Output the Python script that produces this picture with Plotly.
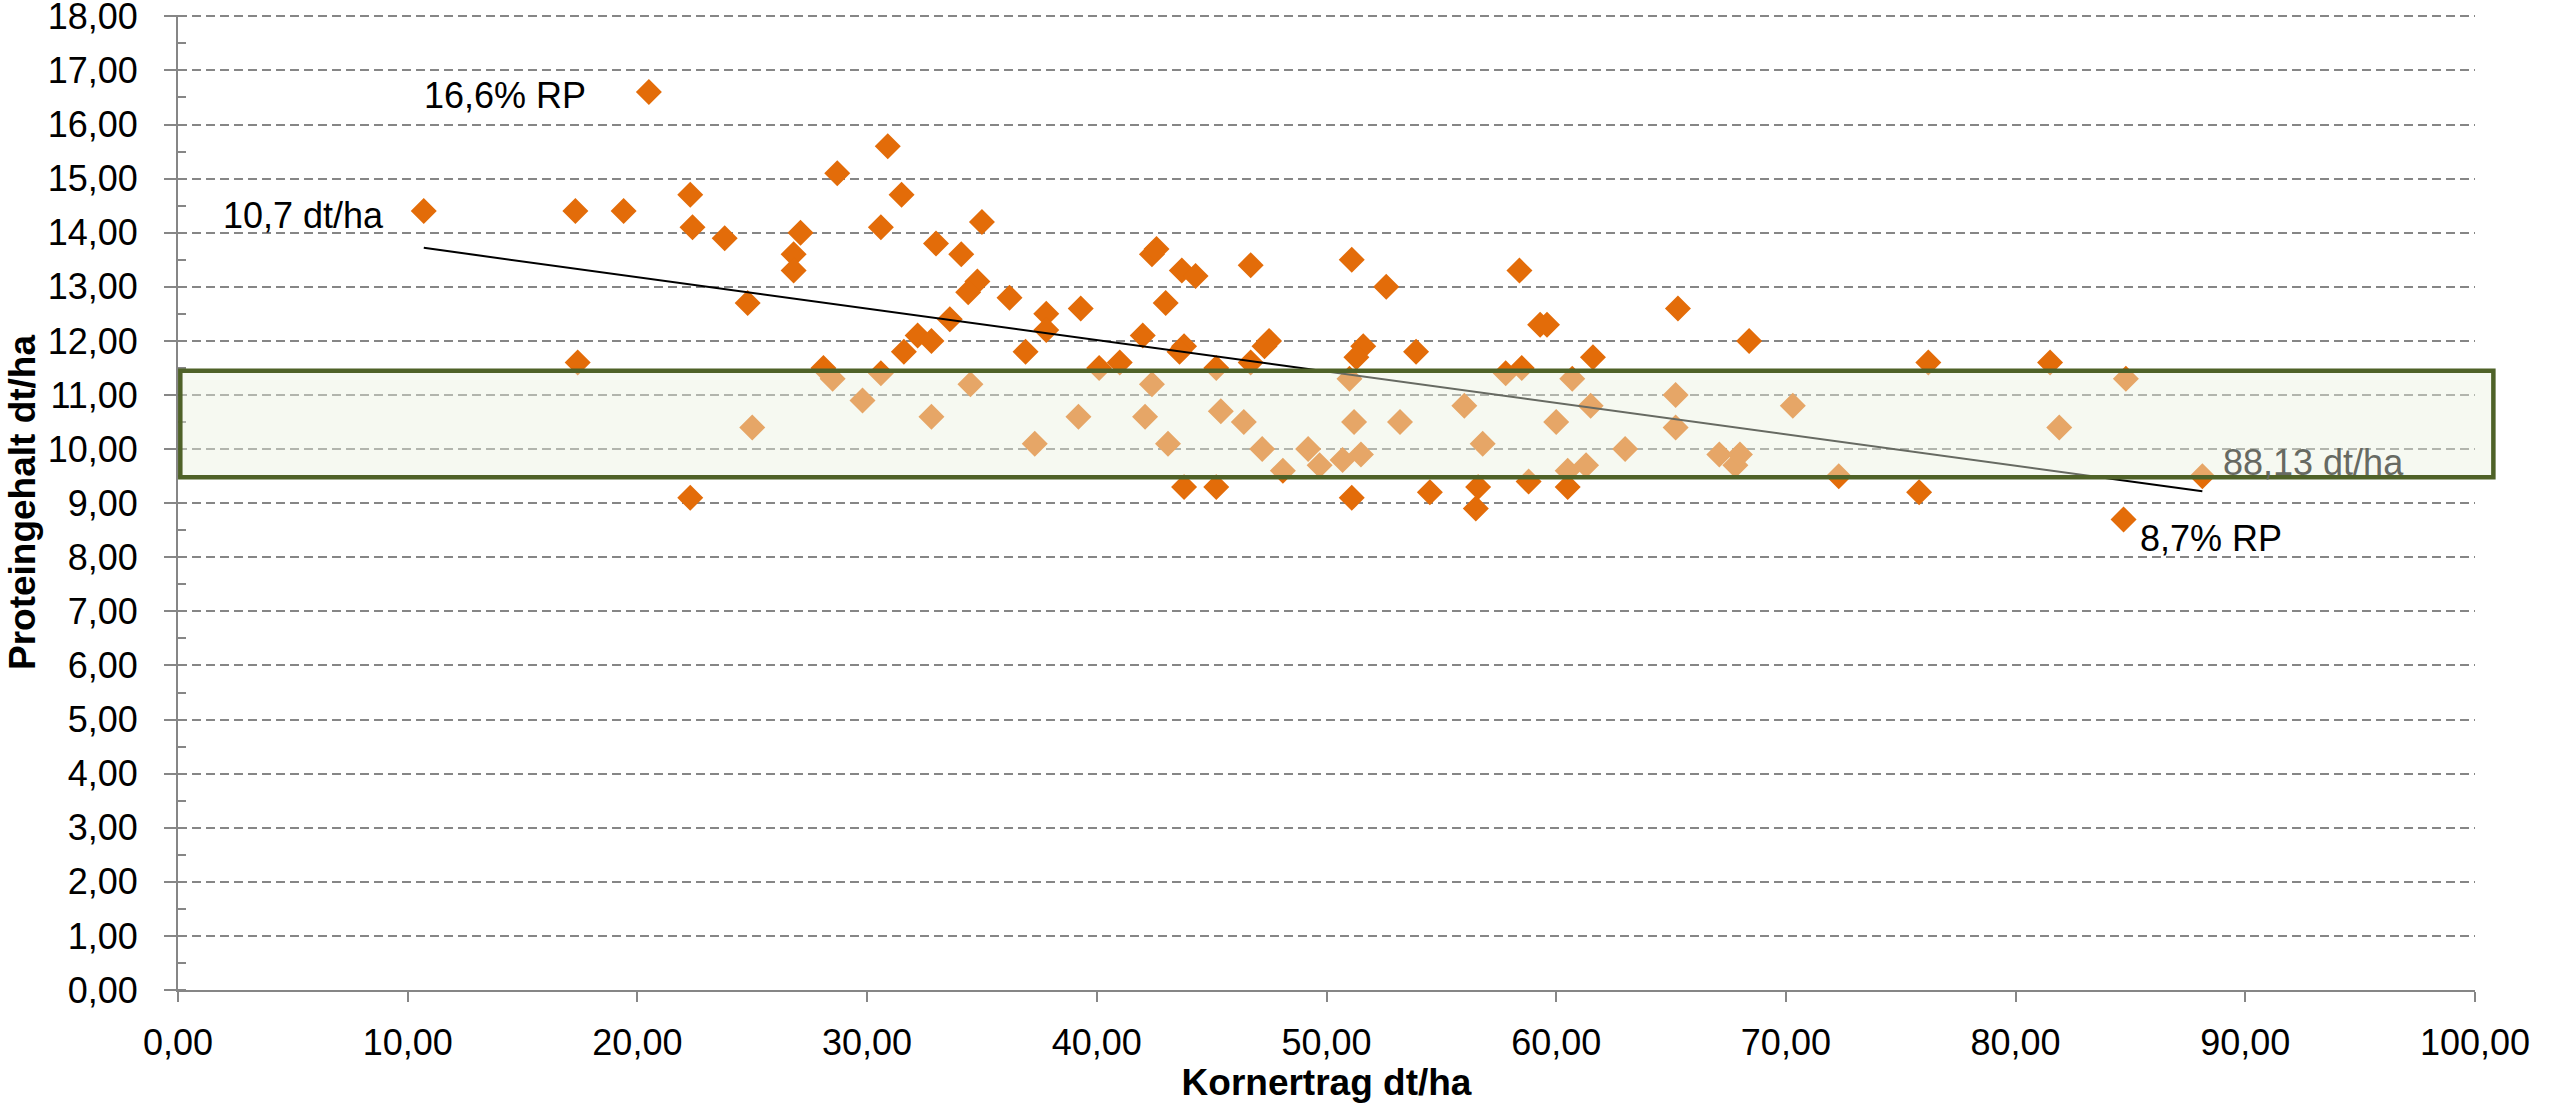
import plotly.graph_objects as go

# Kornertrag dt/ha und Proteingehalt der einzelnen Schläge
kornertrag = [
    10.7, 20.5, 17.3, 19.4, 22.3, 22.4, 23.8, 27.1, 26.8, 26.8, 24.8, 17.4, 22.3, 25.0, 28.1, 28.5, 28.7,
    30.9, 31.5, 30.6, 35.0, 33.0, 34.1, 34.8, 34.4, 36.2, 33.6, 32.2, 32.8, 31.6, 30.6, 29.8, 34.5,
    32.8, 36.9, 37.8, 37.8, 39.3, 37.3, 39.2, 40.1, 41.0, 42.0, 42.4, 42.6, 43.7, 44.3, 43.0, 43.8,
    43.6, 42.4, 42.1, 43.1, 43.8, 45.2, 45.2, 45.4, 46.4, 47.2, 48.1, 46.7, 46.7, 47.5, 47.3,
    51.1, 52.6, 51.6, 51.3, 51.0, 51.2, 51.5, 50.7, 49.2, 49.7, 51.1, 53.9, 53.2, 54.5, 56.0, 56.8,
    56.6, 56.5, 58.4, 57.8, 58.5, 59.3, 59.6, 58.8, 60.0, 60.7, 60.5, 60.5, 61.3, 61.5, 61.6, 63.0,
    65.3, 65.2, 65.2, 67.1, 67.8, 68.0, 68.4,
    70.3, 72.3, 76.2, 75.8, 81.5, 81.9, 84.8, 84.7, 88.13,
]
proteingehalt = [
    14.4, 16.6, 14.4, 14.4, 14.7, 14.1, 13.9, 14.0, 13.6, 13.3, 12.7, 11.6, 9.1, 10.4, 11.5, 11.3, 15.1,
    15.6, 14.7, 14.1, 14.2, 13.8, 13.6, 13.1, 12.9, 12.8, 12.4, 12.1, 12.0, 11.8, 11.4, 10.9, 11.2,
    10.6, 11.8, 12.5, 12.2, 12.6, 10.1, 10.6, 11.5, 11.6, 12.1, 13.6, 13.7, 13.3, 13.2, 12.7, 11.9,
    11.8, 11.2, 10.6, 10.1, 9.3, 9.3, 11.5, 10.7, 10.5, 10.0, 9.6, 13.4, 11.6, 12.0, 11.9,
    13.5, 13.0, 11.9, 11.7, 11.3, 10.5, 9.9, 9.8, 10.0, 9.7, 9.1, 11.8, 10.5, 9.2, 10.8, 10.1,
    9.3, 8.9, 13.3, 11.4, 11.5, 12.3, 12.3, 9.4, 10.5, 11.3, 9.6, 9.3, 9.7, 10.8, 11.7, 10.0,
    12.6, 11.0, 10.4, 9.9, 9.7, 9.9, 12.0,
    10.8, 9.5, 11.6, 9.2, 11.6, 10.4, 11.3, 8.7, 9.5,
]

# lineare Trendlinie
trend_x = [10.7, 88.13]
trend_y = [13.72, 9.22]

# Zielbereich Proteingehalt (Kasten)
zielbereich = [9.48, 11.45]

FONT = "Liberation Sans, Arial, sans-serif"
GRAU = "#868686"

fig = go.Figure()

# Punkte
fig.add_trace(go.Scatter(
    x=kornertrag, y=proteingehalt, mode="markers", name="Proben",
    marker=dict(symbol="diamond", size=20, color="#E36C09", line=dict(width=0)),
    cliponaxis=False,
))

# Trendlinie
fig.add_trace(go.Scatter(
    x=trend_x, y=trend_y, mode="lines", name="Trend",
    line=dict(color="black", width=2),
))

# Kasten liegt halbtransparent über den Punkten
fig.add_shape(
    type="rect", xref="paper", yref="y",
    x0=0.001, x1=1.008, y0=zielbereich[0], y1=zielbereich[1],
    fillcolor="rgba(235,241,222,0.44)",
    line=dict(color="#4F6228", width=4.5),
    layer="above",
)

# Beschriftungen an den Extremwerten
i_pmax = proteingehalt.index(max(proteingehalt))
i_pmin = proteingehalt.index(min(proteingehalt))
i_kmin = kornertrag.index(min(kornertrag))
i_kmax = kornertrag.index(max(kornertrag))

labels = [
    (i_pmax, "16,6% RP", "right", -61, -3, "black"),
    (i_kmin, "10,7 dt/ha", "right", -38, -4, "black"),
    (i_kmax, "88,13 dt/ha", "left", 19, 14, "#676A62"),
    (i_pmin, "8,7% RP", "left", 14, -19, "black"),
]
for i, txt, anchor, dx, dy, col in labels:
    fig.add_annotation(
        x=kornertrag[i], y=proteingehalt[i], text=txt, showarrow=False,
        xanchor=anchor, yanchor="middle", xshift=dx, yshift=dy,
        font=dict(family=FONT, size=36, color=col),
    )

fig.update_layout(
    width=2551, height=1103,
    margin=dict(l=178, r=76, t=14.65, b=113, autoexpand=False),
    paper_bgcolor="white", plot_bgcolor="white",
    showlegend=False,
    separators=", ",
    font=dict(family=FONT, size=36, color="black"),
)

fig.update_xaxes(
    range=[0, 100], tickvals=list(range(0, 101, 10)), tickformat=".2f",
    showgrid=False, zeroline=False, automargin=False,
    showline=True, linecolor=GRAU, linewidth=2,
    ticks="outside", ticklen=10, tickwidth=2, tickcolor=GRAU,
    ticklabelstandoff=10,
    title=dict(text="<b>Kornertrag dt/ha</b>", standoff=15, font=dict(size=37)),
)

# Bereich minimal über 18 hinaus, sonst fehlt die oberste Gitterlinie
fig.update_yaxes(
    range=[0, 18.025], tickvals=list(range(0, 19)), tickformat=".2f",
    showgrid=True, gridcolor=GRAU, gridwidth=2, griddash="9px,5px",
    zeroline=False, automargin=False, ticklabeloverflow="allow",
    showline=True, linecolor=GRAU, linewidth=2,
    ticks="outside", ticklen=12, tickwidth=2, tickcolor=GRAU,
    ticklabelstandoff=19,
    minor=dict(ticks="inside", ticklen=8, tickwidth=2, tickcolor=GRAU, dtick=0.5, showgrid=False),
    title=dict(text="<b>Proteingehalt dt/ha</b>", standoff=1, font=dict(size=37)),
)

# Seitenrand des Browsers entfernen, damit die Figur bündig sitzt
fig.write_html(
    "out.html",
    config={"displayModeBar": False},
    post_script="document.body.style.margin='0';",
)
